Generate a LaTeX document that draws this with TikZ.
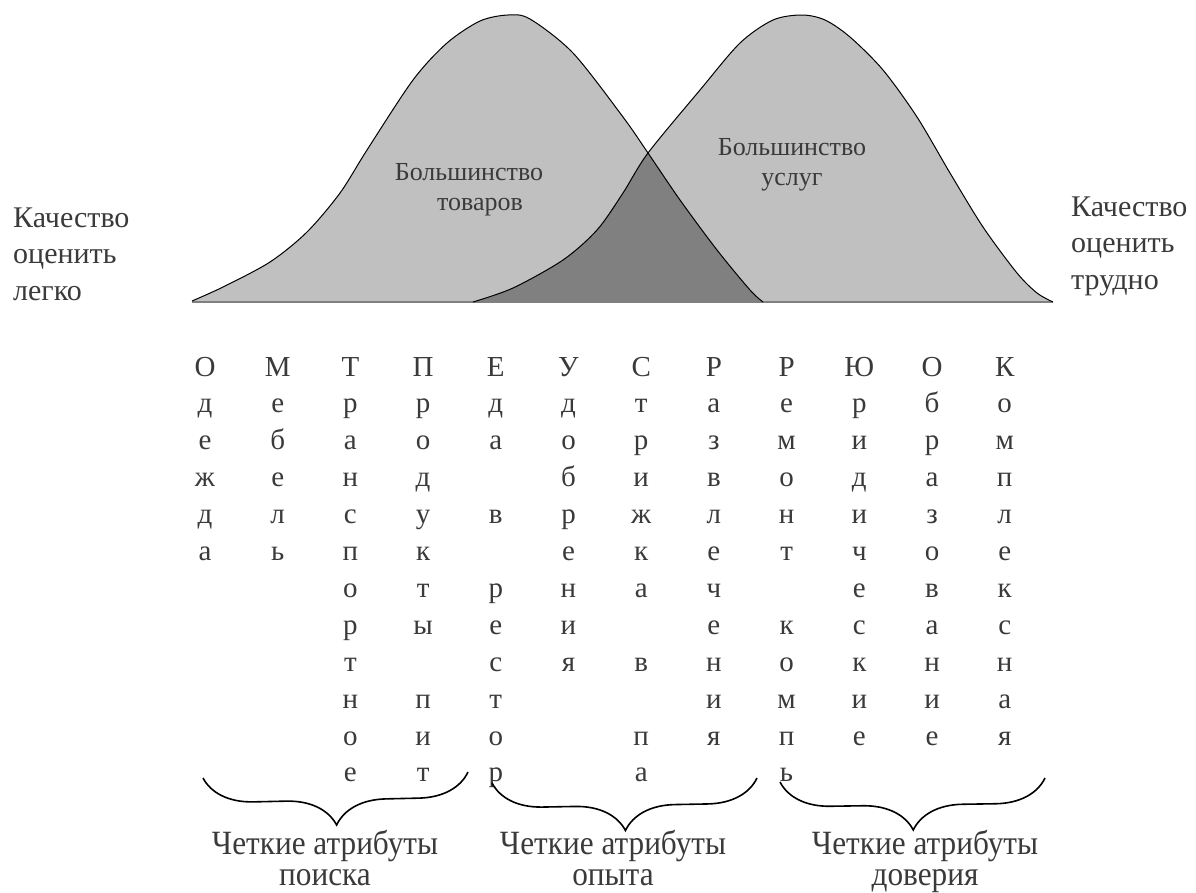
\documentclass[tikz,border=0pt]{standalone}
\usepackage{fontspec}
\usepackage{graphicx}
\setmainfont{Liberation Serif}
\usetikzlibrary{decorations.pathreplacing}

\definecolor{ink}{HTML}{3A3A3A}
\definecolor{lightarea}{HTML}{C0C0C0}
\definecolor{darkarea}{HTML}{808080}

% the two bell curves
\newcommand{\goodscurve}{plot[smooth] coordinates {(192,301) (223,287) (270,262) (307,232) (340,193) (367,150) (413,80) (447,43) (480,21) (508,15) (530,19) (573,53) (623,117) (648,153) (680,200) (717,250) (750,290) (763,302)}}
\newcommand{\servicescurve}{plot[smooth] coordinates {(473,302) (513,288) (563,260) (597,230) (623,193) (648,153) (700,90) (740,43) (773,20) (802,15) (825,20) (850,37) (883,70) (917,117) (950,173) (983,227) (1017,273) (1037,293) (1053,302)}}

\begin{document}
\begin{tikzpicture}[x=1pt, y=-1pt,
    sidelabel/.style={inner sep=0pt, text=ink, align=left, font=\fontsize{30}{36.5}\selectfont},
    inlabel/.style={inner sep=0pt, text=ink, align=center, font=\fontsize{26}{30}\selectfont},
    letter/.style={anchor=base, inner sep=0pt, text=ink, font=\fontsize{29}{29}\selectfont},
    grouplabel/.style={inner sep=0pt, text=ink, align=center, font=\fontsize{34}{31}\selectfont},
    bracket/.style={decorate, decoration={brace, mirror, amplitude=50pt}, line width=1.6pt},
    curve/.style={line width=1pt, black}]
    \useasboundingbox (0,0) rectangle (1196,892);

    % Areas
    \fill[lightarea] \goodscurve -- cycle;
    \fill[lightarea] \servicescurve -- cycle;
    \begin{scope}
        \clip \goodscurve -- cycle;
        \fill[darkarea] \servicescurve -- cycle;
    \end{scope}
    \draw[gray, line width=1.2pt] (192,302) -- (1053,302);
    \draw[curve] \goodscurve;
    \draw[curve] \servicescurve;

    % Labels (base = last line)
    \node[sidelabel, anchor=base west] (easy) at (13,300) {Качество\\оценить\\легко};
    \node[sidelabel, anchor=base west] (hard) at (1071,289) {Качество\\оценить\\трудно};
    \node[inlabel, anchor=base] (goods) at (469,180) {Большинство};
    \node[inlabel, anchor=base] (goods2) at (480,210) {товаров};
    \node[inlabel, anchor=base] (services) at (792,185) {Большинство\\услуг};

    % Columns of letters
    \foreach \word [count=\i from 0] in {
        {О,д,е,ж,д,а}, {М,е,б,е,л,ь}, {Т,р,а,н,с,п,о,р,т,н,о,е}, {П,р,о,д,у,к,т,ы,.,п,и,т},
        {Е,д,а,.,в,.,р,е,с,т,о,р}, {У,д,о,б,р,е,н,и,я}, {С,т,р,и,ж,к,а,.,в,.,п,а},
        {Р,а,з,в,л,е,ч,е,н,и,я}, {Р,е,м,о,н,т,.,к,о,м,п,ь}, {Ю,р,и,д,и,ч,е,с,к,и,е},
        {О,б,р,а,з,о,в,а,н,и,е}, {К,о,м,п,л,е,к,с,н,а,я}}
    {
        \foreach \ch [count=\r from 0] in \word {
            \if\ch.\else
                \node[letter] (c\i-\r) at ({205+72.7*\i}, {376+36.9*\r}) {\ch};
            \fi
        }
    }

    % Braces
    \draw[bracket] (203,778) -- (468,772);
    \draw[bracket] (492,783) -- (757,778);
    \draw[bracket] (780,782) -- (1045,778);
    \node[grouplabel, anchor=base] (search) at (325,885) {\scalebox{.92}[1]{Четкие атрибуты}\\\scalebox{.92}[1]{поиска}};
    \node[grouplabel, anchor=base] (experience) at (613,885) {\scalebox{.92}[1]{Четкие атрибуты}\\\scalebox{.92}[1]{опыта}};
    \node[grouplabel, anchor=base] (trust) at (925,885) {\scalebox{.92}[1]{Четкие атрибуты}\\\scalebox{.92}[1]{доверия}};
\end{tikzpicture}
\end{document}
